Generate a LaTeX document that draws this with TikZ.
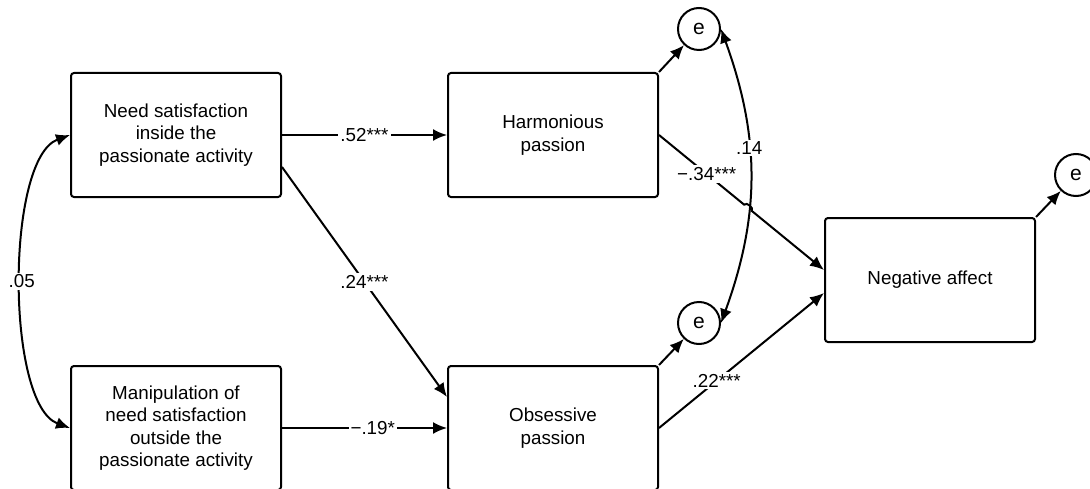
\documentclass[tikz,border=0pt]{standalone}
\usepackage{fontspec}
\setmainfont{Liberation Sans}
\usetikzlibrary{arrows.meta}

\begin{document}
\begin{tikzpicture}[x=0.5pt, y=0.5pt,
    every node/.style={font=\fontsize{9.4}{11.25}\selectfont},
    box/.style={draw, line width=1pt, rounded corners=1.5pt, minimum width=105pt,
        minimum height=62pt, align=center, inner sep=0pt},
    err/.style={draw, line width=1pt, circle, minimum size=21pt, inner sep=0pt,
        font=\fontsize{10.5}{12}\selectfont},
    arr/.style={-{Latex[length=7pt,width=6pt]}, line width=1pt},
    both/.style={{Latex[length=7pt,width=6pt]}-{Latex[length=7pt,width=6pt]}, line width=1pt},
    lbl/.style={fill=white, inner sep=1pt}
]
    \useasboundingbox (0,0) rectangle (1090,488);
    % variables
    \node[box] (nsin) at (176,353) {Need satisfaction\\inside the\\passionate activity};
    \node[box] (nsout) at (176,60) {Manipulation of\\need satisfaction\\outside the\\passionate activity};
    \node[box] (hp) at (553,353) {Harmonious\\passion};
    \node[box] (op) at (553,60) {Obsessive\\passion};
    \node[box] (na) at (930,208) {Negative affect};
    % residuals
    \node[err] (e1) at (699,459) {e};
    \node[err] (e2) at (699,165) {e};
    \node[err] (e3) at (1076,313) {e};

    \draw[arr] (nsin) -- node[lbl] {.52***} (hp);
    \draw[arr] (nsout) -- node[lbl, pos=0.55] {−.19*} (op);
    \draw[arr] ([yshift=-16pt]nsin.east) -- node[lbl] {.24***} ([yshift=15.5pt]op.west);
    \draw[arr] (op.east) -- node[lbl, pos=0.35] {.22***} ([yshift=-6.5pt]na.west);
    \draw[arr] (hp.north east) -- (e1);
    \draw[arr] (op.north east) -- (e2);
    \draw[arr] (na.north east) -- (e3);

    \draw[both] (nsin.west) to[out=200, in=160, looseness=0.6] node[lbl] {.05} (nsout.west);
    \draw[both] (e1.east) to[bend left=20] node[lbl, pos=0.4] {.14} (e2.east);

    % jump over the covariance
    \path (hp.east) -- coordinate[pos=0.516] (j1) coordinate[pos=0.562] (j2) ([yshift=5pt]na.west);
    \draw[arr] (hp.east) -- node[lbl, pos=0.56] {−.34***} (j1) to[bend left=90] (j2) -- ([yshift=5pt]na.west);
\end{tikzpicture}
\end{document}
